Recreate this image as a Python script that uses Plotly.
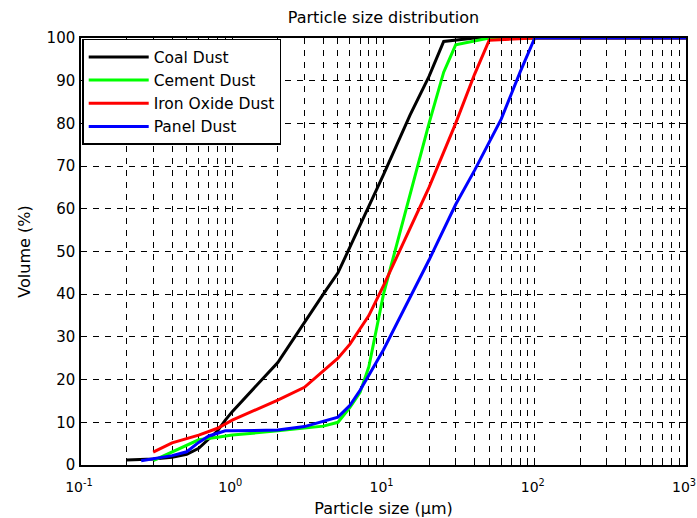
import plotly.graph_objects as go

# ---- data ----
coal_x = [0.2, 0.3, 0.4, 0.5, 0.6, 0.7, 0.8, 0.9, 1, 2, 3, 4, 5, 7, 10, 15, 20, 25, 30, 40, 1000]
coal_y = [1.2, 1.4, 1.8, 2.5, 3.9, 6, 8, 10.5, 12.5, 24, 33.5, 40, 45, 56, 68, 82, 91, 99.2, 99.5, 100, 100]

cement_x = [0.3, 0.4, 0.5, 0.6, 0.8, 1, 2, 3, 4, 5, 6, 7, 8, 10, 20, 25, 30, 50, 1000]
cement_y = [1, 3, 4.7, 5.9, 6.5, 7, 8, 8.6, 9.1, 10, 13.5, 17, 23, 40, 80, 92, 98.4, 100, 100]

iron_x = [0.3, 0.4, 0.6, 0.8, 1, 2, 3, 4, 5, 6, 8, 10, 20, 30, 40, 50, 100, 1000]
iron_y = [3, 5.2, 7, 8.6, 10.5, 15.2, 18.2, 22, 25, 28.3, 35, 42, 65, 80, 91.5, 99.5, 100, 100]

panel_x = [0.25, 0.4, 0.5, 0.6, 0.7, 0.9, 1, 2, 3, 5, 6, 7, 8, 10, 20, 30, 40, 60, 80, 100, 1000]
panel_y = [1, 2.2, 3.1, 5.3, 6.8, 8, 8, 8.2, 9, 11.2, 14, 17.5, 21, 27, 48, 61, 69, 81, 92, 100, 100]

series_names = ["Coal Dust", "Cement Dust", "Iron Oxide Dust", "Panel Dust"]
series_colors = ["#000000", "#00ff00", "#ff0000", "#0000ff"]

x_tick_vals = [0.1, 1, 10, 100, 1000]
x_tick_text = ["10<sup>-1</sup>", "10<sup>0</sup>", "10<sup>1</sup>", "10<sup>2</sup>", "10<sup>3</sup>"]
x_minor_vals = [m * d for d in [0.1, 1, 10, 100] for m in range(2, 10)]
y_tick_vals = [0, 10, 20, 30, 40, 50, 60, 70, 80, 90, 100]

FONT = "DejaVu Sans"

fig = go.Figure()
for xs, ys, name, color in zip([coal_x, cement_x, iron_x, panel_x],
                               [coal_y, cement_y, iron_y, panel_y],
                               series_names, series_colors):
    fig.add_trace(go.Scatter(x=xs, y=ys, mode="lines", name=name,
                             line=dict(color=color, width=3)))

grid_dash = "6px,6px"
fig.update_xaxes(
    type="log", range=[-1, 3], automargin=False,
    tickmode="array", tickvals=x_tick_vals, ticktext=x_tick_text,
    ticks="inside", ticklen=6, tickcolor="black", tickwidth=1,
    ticklabelstandoff=8, ticklabeloverflow="allow", ticklabelshift=-2,
    showline=True, linecolor="black", linewidth=1.5, mirror="allticks",
    showgrid=True, gridcolor="black", gridwidth=1, griddash=grid_dash,
    minor=dict(tickvals=x_minor_vals, ticks="inside", ticklen=4, tickcolor="black",
               showgrid=True, gridcolor="black", gridwidth=1, griddash=grid_dash),
    zeroline=False,
    tickfont=dict(family=FONT, size=14, color="black"),
    title=dict(text="Particle size (\u03bcm)", font=dict(family=FONT, size=16, color="black")),
)
fig.update_yaxes(
    range=[0, 100], tickmode="array", tickvals=y_tick_vals, automargin=False,
    ticks="inside", ticklen=6, tickcolor="black", tickwidth=1,
    ticklabelstandoff=1, ticklabeloverflow="allow",
    showline=True, linecolor="black", linewidth=1.5, mirror="allticks",
    showgrid=True, gridcolor="black", gridwidth=1, griddash=grid_dash,
    zeroline=False,
    tickfont=dict(family=FONT, size=15, color="black"),
    title=dict(text="Volume (%)", font=dict(family=FONT, size=16, color="black"), standoff=12),
)

fig.update_layout(
    width=697, height=518,
    margin=dict(l=81, r=11, t=38, b=53, autoexpand=False),
    paper_bgcolor="white", plot_bgcolor="white",
    font=dict(family=FONT, size=16, color="black"),
    title=dict(text="Particle size distribution", x=0.5, xref="paper",
               y=1 - 17 / 518, yref="container", yanchor="middle",
               font=dict(family=FONT, size=16, color="black")),
    legend=dict(x=0.002, y=0.998, xanchor="left", yanchor="top",
                bgcolor="white", bordercolor="black", borderwidth=1.5,
                font=dict(family=FONT, size=15.5, color="black"),
                itemwidth=60, tracegroupgap=0),
    showlegend=True,
)

fig.write_html("out.html")
